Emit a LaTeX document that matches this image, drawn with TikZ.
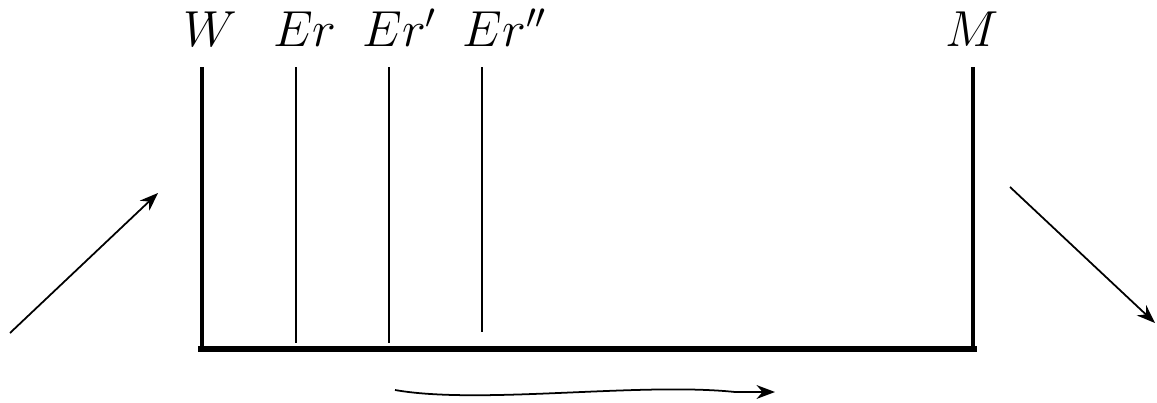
\documentclass[tikz,border=0pt]{standalone}
\usepackage{amsmath}
\usepackage{tikz}
\usetikzlibrary{arrows.meta}

\begin{document}
\begin{tikzpicture}[>=Stealth,x=0.01cm,y=-0.01cm,
    wall/.style={line width=1.4pt},
    layer/.style={line width=0.5pt},
    flow/.style={->,line width=0.5pt},
    tag/.style={font=\Large,anchor=base,inner sep=0pt}]
  \useasboundingbox (0,0) rectangle (1157,403);
  % walls and floor
  \coordinate (Wtop) at (202,67);
  \coordinate (Wbot) at (202,349);
  \coordinate (Mtop) at (973,67);
  \coordinate (Mbot) at (973,349);
  \draw[wall] (Wtop) -- (Wbot);
  \draw[wall] (Mtop) -- (Mbot);
  \draw[wall,line width=1.6pt] (198,349) -- (977,349);
  % layers
  \draw[layer] (296,67) coordinate (E1) -- (296,343);
  \draw[layer] (389,67) coordinate (E2) -- (389,343);
  \draw[layer] (482,67) coordinate (E3) -- (482,332);
  % labels
  \node[tag] (W) at (210,47) {$W$};
  \node[tag] (Er) at (305,47) {$Er$};
  \node[tag] (Erp) at (400,47) {$Er'$};
  \node[tag] (Erpp) at (505,47) {$Er''$};
  \node[tag] (M) at (972,47) {$M$};
  % in and out
  \coordinate (in0) at (10,333);
  \coordinate (in1) at (158,193);
  \coordinate (out0) at (1010,187);
  \coordinate (out1) at (1155,323);
  \draw[flow] (in0) -- (in1);
  \draw[flow] (out0) -- (out1);
  % drift along the floor
  \coordinate (d0) at (395,390);
  \coordinate (d1) at (775,392);
  \draw[flow] (d0) .. controls (480,405) and (640,382) .. (735,392) -- (d1);
\end{tikzpicture}
\end{document}
